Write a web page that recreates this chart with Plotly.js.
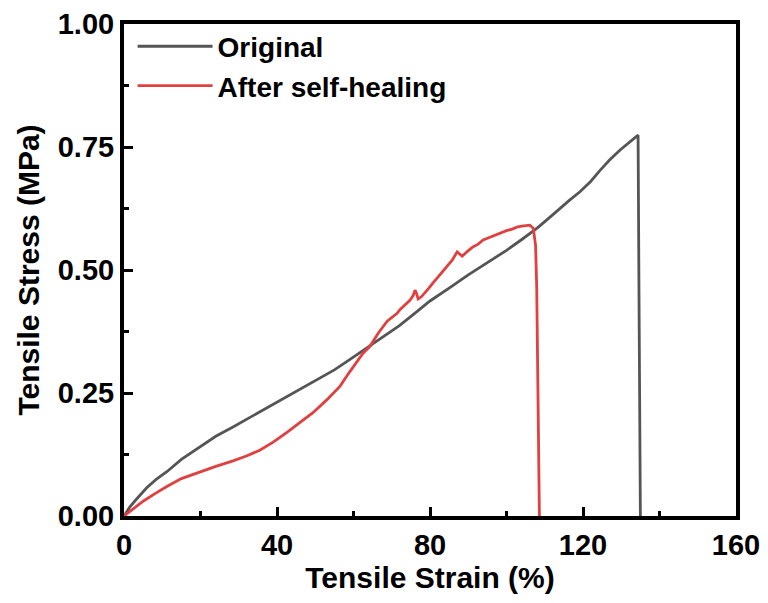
<!DOCTYPE html>
<html>
<head>
<meta charset="utf-8">
<script src="https://cdn.plot.ly/plotly-3.0.1.min.js"></script>
<style>html,body{margin:0;padding:0;background:#fff;}</style>
</head>
<body>
<div id="chart" style="width:768px;height:603px;"></div>
<script>
// Tensile stress-strain data
const originalStrain = [0, 1.5, 3, 6, 8.5, 11.2, 15, 19.9, 24, 28.5, 34, 39, 45, 50.5, 55, 59, 64.3, 68, 72, 76, 80, 85, 90, 95, 100, 104, 108, 111, 114, 116.5, 119.2, 122, 124.4, 127, 129.7, 132, 133.5, 134.4, 134.6, 134.8, 135.0];
const originalStress = [0, 0.018, 0.032, 0.058, 0.075, 0.09, 0.115, 0.141, 0.162, 0.181, 0.205, 0.227, 0.252, 0.276, 0.297, 0.318, 0.346, 0.366, 0.387, 0.412, 0.437, 0.463, 0.49, 0.515, 0.54, 0.562, 0.585, 0.605, 0.626, 0.642, 0.659, 0.68, 0.702, 0.724, 0.744, 0.758, 0.768, 0.774, 0.5, 0.2, 0];

const healedStrain = [0, 1, 2, 3.5, 5, 8, 11.2, 15, 19.9, 24, 28.5, 32, 35.6, 39, 42.6, 46, 49.4, 53, 56.5, 59, 62.5, 64.3, 66.5, 68.8, 71.4, 72.2, 73.5, 74.8, 75.6, 76.1, 76.5, 76.9, 77.8, 78.5, 79.6, 80.8, 82.5, 84.4, 85.8, 87.1, 87.8, 88.4, 89.8, 91.2, 92.5, 93.9, 95.5, 97, 98.3, 100, 101.5, 102.7, 104, 105, 106.1, 107, 107.6, 107.9, 108.1, 108.3, 108.5, 108.6];
const healedStress = [0, 0.006, 0.013, 0.022, 0.03, 0.045, 0.06, 0.076, 0.09, 0.101, 0.112, 0.122, 0.134, 0.15, 0.17, 0.19, 0.21, 0.236, 0.264, 0.293, 0.331, 0.345, 0.372, 0.396, 0.412, 0.42, 0.43, 0.439, 0.448, 0.459, 0.452, 0.441, 0.446, 0.452, 0.462, 0.474, 0.49, 0.506, 0.52, 0.537, 0.533, 0.528, 0.538, 0.547, 0.552, 0.561, 0.566, 0.571, 0.575, 0.58, 0.583, 0.587, 0.589, 0.59, 0.591, 0.585, 0.55, 0.465, 0.35, 0.236, 0.1, 0];

const seriesNames = ['Original', 'After self-healing'];
const seriesColors = ['#555555', '#e0403f'];
const xTickVals = [0, 40, 80, 120, 160];
const yTickVals = [0, 0.25, 0.5, 0.75, 1.0];

const fontFamily = 'Arial, "Liberation Sans", sans-serif';

const traces = [
  {x: originalStrain, y: originalStress, name: seriesNames[0], mode: 'lines',
   line: {color: seriesColors[0], width: 2.8}},
  {x: healedStrain, y: healedStress, name: seriesNames[1], mode: 'lines',
   line: {color: seriesColors[1], width: 2.8}}
];

const axisCommon = {
  showgrid: false, zeroline: false, showline: true, linewidth: 4, linecolor: '#000',
  mirror: true, ticks: 'inside', ticklen: 9, tickwidth: 3, tickcolor: '#000',
  tickfont: {family: fontFamily, size: 29, color: '#000', weight: 'bold'}
};

const layout = {
  width: 768, height: 603,
  margin: {l: 124, r: 32, t: 24, b: 87},
  paper_bgcolor: '#fff', plot_bgcolor: '#fff',
  font: {family: fontFamily, color: '#000'},
  xaxis: Object.assign({}, axisCommon, {
    range: [0, 160], tickvals: xTickVals, ticktext: xTickVals.map(String),
    minor: {dtick: 20, tick0: 0, ticks: 'inside', ticklen: 5, tickwidth: 3, tickcolor: '#000'},
    title: {text: 'Tensile Strain (%)', font: {family: fontFamily, size: 30, weight: 'bold', color: '#000'}, standoff: 6}
  }),
  yaxis: Object.assign({}, axisCommon, {
    range: [0, 1], tickvals: yTickVals, ticktext: yTickVals.map(v => v.toFixed(2)),
    minor: {dtick: 0.125, tick0: 0, ticks: 'inside', ticklen: 5, tickwidth: 3, tickcolor: '#000'},
    title: {text: 'Tensile Stress (MPa)', font: {family: fontFamily, size: 30, weight: 'bold', color: '#000'}, standoff: 10}
  }),
  showlegend: true,
  legend: {
    x: 0.014, y: 1.005, xanchor: 'left', yanchor: 'top',
    bgcolor: 'rgba(0,0,0,0)', borderwidth: 0, itemwidth: 75,
    font: {family: fontFamily, size: 28, color: '#000', weight: 'bold'},
    tracegroupgap: 0
  }
};

Plotly.newPlot('chart', traces, layout, {displayModeBar: false, staticPlot: true});
</script>
</body>
</html>
